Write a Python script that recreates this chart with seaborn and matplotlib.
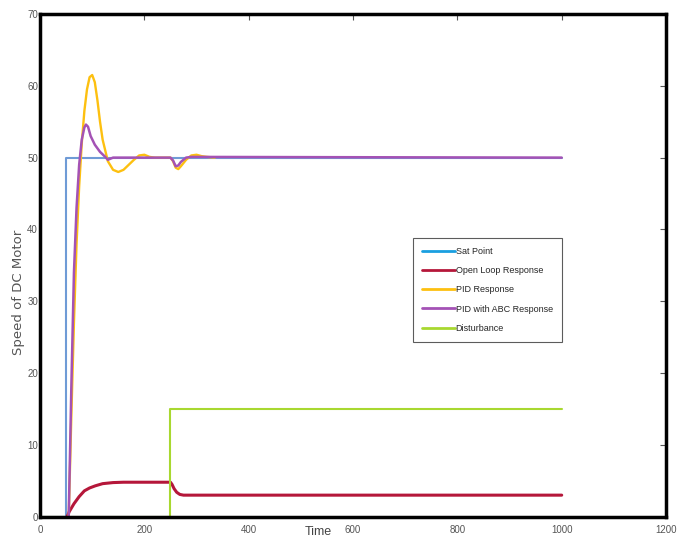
import matplotlib
matplotlib.use("Agg")
import matplotlib.pyplot as plt
import seaborn as sns
import pandas as pd
from matplotlib.lines import Line2D

# ---- data ----
set_t = [0, 50, 50, 1000]
set_v = [0, 0, 50, 50]

open_t = [52, 56, 65, 75, 85, 95, 106, 120, 140, 160, 250, 253, 257, 262, 268, 275, 1000]
open_v = [0, 0.7, 1.8, 2.8, 3.6, 4.0, 4.3, 4.6, 4.75, 4.8, 4.8, 4.5, 3.9, 3.4, 3.1, 3.0, 3.0]

pid_t = [55, 60, 65, 70, 75, 80, 85, 90, 95, 100, 105, 110, 115, 120, 130, 140, 150, 160,
         170, 180, 190, 200, 210, 220, 230, 250, 255, 260, 265, 270, 280, 290, 300, 310, 320, 335]
pid_v = [0, 14, 27, 38, 46, 52, 56.5, 59.5, 61.2, 61.5, 60.5, 58, 55, 52.5, 49.5, 48.3, 48.0, 48.3,
         49.0, 49.7, 50.3, 50.4, 50.1, 50.0, 50.0, 50.0, 49.5, 48.6, 48.4, 48.8, 49.7, 50.3, 50.4, 50.2, 50.1, 50.0]

abc_t = [55, 60, 65, 70, 75, 80, 85, 88, 92, 97, 105, 115, 125, 130, 140, 200, 250, 255, 260,
         265, 270, 280, 290, 1000]
abc_v = [0, 18, 34, 43, 49, 52.5, 54.2, 54.6, 54.3, 53, 51.8, 50.8, 50.1, 49.7, 50.0, 50.0, 50.0,
         49.6, 48.8, 48.9, 49.4, 50.0, 50.1, 50.0]

dist_t = [0, 250, 250, 1000]
dist_v = [0, 0, 15, 15]

labels = ["Sat Point", "Open Loop Response", "PID Response", "PID with ABC Response", "Disturbance"]
x_ticks = [0, 200, 400, 600, 800, 1000, 1200]
y_ticks = [0, 10, 20, 30, 40, 50, 60, 70]

sns.set_theme(style="white")
plt.rcParams["font.family"] = ["Liberation Sans Narrow", "Liberation Sans", "DejaVu Sans"]

fig = plt.figure(figsize=(6.82, 5.38), dpi=100)
ax = fig.add_axes([0.0587, 0.0396, 0.9179, 0.9344])

series = [
    (set_t, set_v, "#6f9bd6", 1.5),
    (open_t, open_v, "#b5173a", 2.2),
    (dist_t, dist_v, "#a8d830", 1.5),
    (pid_t, pid_v, "#fdc010", 1.7),
    (abc_t, abc_v, "#a452b5", 1.8),
]
for t, v, c, lw in series:
    df = pd.DataFrame({"t": t, "v": v})
    sns.lineplot(data=df, x="t", y="v", sort=False, estimator=None, color=c, linewidth=lw, ax=ax)

ax.set_xlim(0, 1200)
ax.set_ylim(0, 70)
ax.set_xticks(x_ticks)
ax.set_yticks(y_ticks)
ax.tick_params(axis="both", direction="in", length=4, width=0.8, colors="#555555",
               labelsize=7, top=True, right=True)
ax.tick_params(axis="x", pad=6)
ax.tick_params(axis="y", pad=1.5)
for s in ax.spines.values():
    s.set_color("black")
    s.set_linewidth(2.5)

ax.set_xlabel("Time", fontsize=9, color="#444444", family=["Liberation Sans", "DejaVu Sans"],
              va="center")
ax.xaxis.set_label_coords(0.444, -0.03)
ax.set_ylabel("Speed of DC Motor", fontsize=9.5, color="#555555",
              family=["DejaVu Sans"], va="center")
ax.yaxis.set_label_coords(-0.034, 0.447)

handle_colors = ["#1a9fe0", "#b5173a", "#fdc010", "#a452b5", "#a8d830"]
handles = [Line2D([0], [0], color=c, linewidth=2) for c in handle_colors]
leg = ax.legend(handles, labels, loc="upper left", bbox_to_anchor=(0.596, 0.554),
                fontsize=6.5, frameon=True, fancybox=False, handlelength=3.6,
                handletextpad=0.1, borderpad=1.0, labelspacing=1.12, borderaxespad=0)
leg.get_frame().set_edgecolor("#333333")
leg.get_frame().set_linewidth(0.8)

fig.savefig("out.png", dpi=100)
